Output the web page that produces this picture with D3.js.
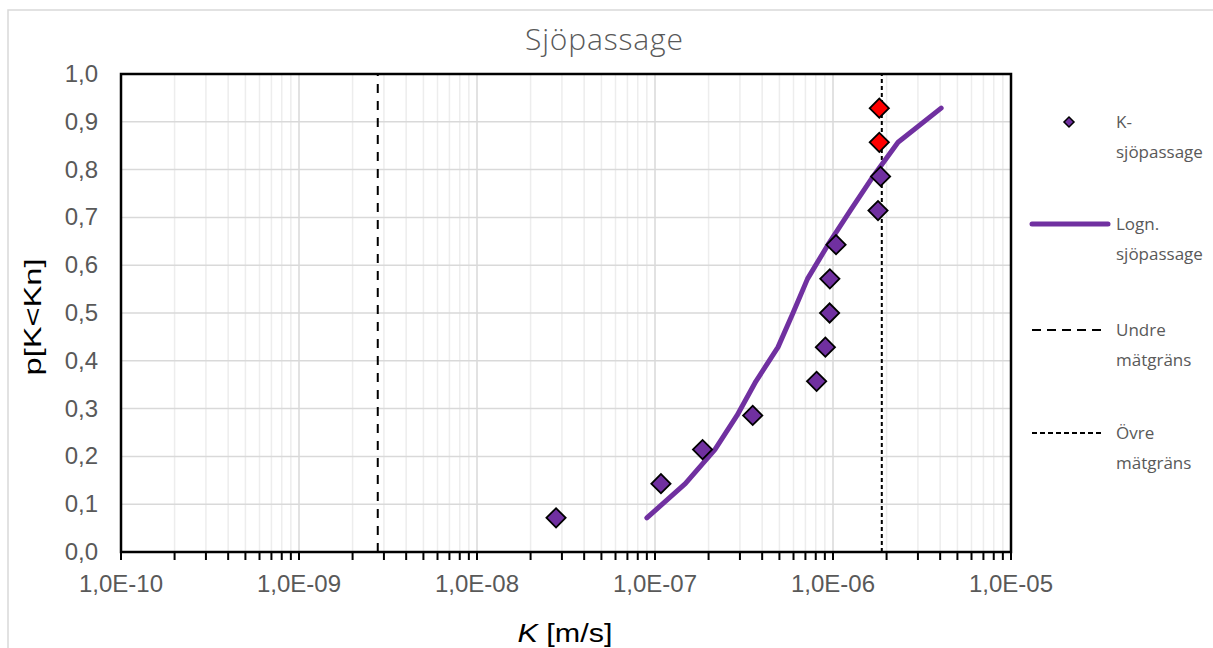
<!DOCTYPE html>
<html lang="sv">
<head>
<meta charset="UTF-8">
<title>Sjöpassage</title>
<script src="https://d3js.org/d3.v7.min.js"></script>
<style>
  body { margin: 0; background: #fff; }
  svg text { font-family: "Liberation Sans", Arial, sans-serif; }
</style>
</head>
<body>
<svg id="main" width="1213" height="648"></svg>
<script>
// measured K values (m/s) and plotting position p
const sampleK = [2.78e-8, 1.08e-7, 1.85e-7, 3.54e-7, 8.09e-7, 9.06e-7, 9.57e-7, 9.6e-7, 1.04e-6, 1.79e-6, 1.85e-6];
const sampleP = [0.0714, 0.1429, 0.2143, 0.2857, 0.3571, 0.4286, 0.5, 0.5714, 0.6429, 0.7143, 0.7857];
// values at the upper measurement limit (red)
const limitK = [1.82e-6, 1.82e-6];
const limitP = [0.8571, 0.9286];
// fitted lognormal curve
const curveK = [9.0e-8, 1.48e-7, 2.17e-7, 2.89e-7, 3.69e-7, 4.91e-7, 5.96e-7, 7.19e-7, 9.38e-7, 1.25e-6, 1.68e-6, 2.32e-6, 4.05e-6];
const curveP = [0.0714, 0.1429, 0.2143, 0.2857, 0.3571, 0.4286, 0.5, 0.5714, 0.6429, 0.7143, 0.7857, 0.8571, 0.9286];
const lowerLimit = 2.77e-9;
const upperLimit = 1.88e-6;
const xTicks = [1e-10, 1e-9, 1e-8, 1e-7, 1e-6, 1e-5];
const yTicks = [0, 0.1, 0.2, 0.3, 0.4, 0.5, 0.6, 0.7, 0.8, 0.9, 1.0];
const legendLabels = [["K-", "sjöpassage"], ["Logn.", "sjöpassage"], ["Undre", "mätgräns"], ["Övre", "mätgräns"]];

const purple = "#7030A0";
const svg = d3.select("svg#main");

// chart border
svg.append("rect").attr("x", 8).attr("y", 10).attr("width", 1230).attr("height", 660)
  .attr("fill", "none").attr("stroke", "#d9d9d9").attr("stroke-width", 1.5);

const x = d3.scaleLog().domain([1e-10, 1e-5]).range([121, 1011]);
const y = d3.scaleLinear().domain([0, 1]).range([552, 74]);

// vertical gridlines
const allX = x.ticks();
const isMajor = d => Math.abs(Math.log10(d) - Math.round(Math.log10(d))) < 1e-6;
svg.append("g").selectAll("line").data(allX.filter(d => !isMajor(d))).join("line")
  .attr("x1", d => x(d)).attr("x2", d => x(d)).attr("y1", y(0)).attr("y2", y(1))
  .attr("stroke", "#ededed").attr("stroke-width", 1.5);
svg.append("g").selectAll("line").data(xTicks).join("line")
  .attr("x1", d => x(d)).attr("x2", d => x(d)).attr("y1", y(0)).attr("y2", y(1))
  .attr("stroke", "#d9d9d9").attr("stroke-width", 1.5);
// horizontal gridlines
svg.append("g").selectAll("line").data(yTicks).join("line")
  .attr("x1", x.range()[0]).attr("x2", x.range()[1]).attr("y1", d => y(d)).attr("y2", d => y(d))
  .attr("stroke", "#d9d9d9").attr("stroke-width", 1.5);

// x axis ticks (all log ticks, pointing down)
svg.append("g").selectAll("line").data(allX).join("line")
  .attr("x1", d => x(d)).attr("x2", d => x(d)).attr("y1", y(0)).attr("y2", y(0) + 8)
  .attr("stroke", "#000").attr("stroke-width", 2);

// measurement limits
svg.append("line").attr("x1", x(lowerLimit)).attr("x2", x(lowerLimit)).attr("y1", y(0)).attr("y2", y(1))
  .attr("stroke", "#000").attr("stroke-width", 2).attr("stroke-dasharray", "9,8");
svg.append("line").attr("x1", x(upperLimit)).attr("x2", x(upperLimit)).attr("y1", y(0)).attr("y2", y(1))
  .attr("stroke", "#000").attr("stroke-width", 2).attr("stroke-dasharray", "4,3");

// plot area frame
svg.append("rect").attr("x", x.range()[0]).attr("y", y(1))
  .attr("width", x.range()[1] - x.range()[0]).attr("height", y(0) - y(1))
  .attr("fill", "none").attr("stroke", "#000").attr("stroke-width", 2.5);

// lognormal curve
const line = d3.line().x(d => x(d[0])).y(d => y(d[1]));
svg.append("path").datum(d3.zip(curveK, curveP)).attr("d", line)
  .attr("fill", "none").attr("stroke", purple).attr("stroke-width", 5)
  .attr("stroke-linecap", "round").attr("stroke-linejoin", "round");

// diamonds
const diamond = d3.symbol().type(d3.symbolSquare).size(185);
svg.append("g").selectAll("path").data(d3.zip(sampleK, sampleP)).join("path")
  .attr("d", diamond)
  .attr("transform", d => `translate(${x(d[0])},${y(d[1])}) rotate(45)`)
  .attr("fill", purple).attr("stroke", "#000").attr("stroke-width", 1.8);
svg.append("g").selectAll("path").data(d3.zip(limitK, limitP)).join("path")
  .attr("d", diamond)
  .attr("transform", d => `translate(${x(d[0])},${y(d[1])}) rotate(45)`)
  .attr("fill", "#ff0000").attr("stroke", "#000").attr("stroke-width", 1.8);

// tick labels
const fmtY = d => d3.format(".1f")(d).replace(".", ",");
svg.append("g").selectAll("text").data(yTicks).join("text")
  .attr("x", 98).attr("y", d => y(d) + 8).attr("text-anchor", "end")
  .attr("font-size", 24).attr("fill", "#595959").text(fmtY);
const fmtX = d => "1,0E-" + String(-Math.round(Math.log10(d))).padStart(2, "0");
svg.append("g").selectAll("text").data(xTicks).join("text")
  .attr("x", d => x(d)).attr("y", 592).attr("text-anchor", "middle")
  .attr("font-size", 24).attr("fill", "#595959").text(fmtX);

// axis titles
const xt = svg.append("text").attr("x", 565).attr("y", 642).attr("text-anchor", "middle")
  .attr("font-size", 25).attr("fill", "#000")
  .attr("textLength", 95).attr("lengthAdjust", "spacingAndGlyphs");
xt.append("tspan").attr("font-style", "italic").text("K");
xt.append("tspan").text(" [m/s]");
svg.append("text").attr("transform", "translate(41,317) rotate(-90)").attr("text-anchor", "middle")
  .attr("font-size", 24).attr("fill", "#000")
  .attr("textLength", 117).attr("lengthAdjust", "spacingAndGlyphs").text("p[K<Kn]");

// title
svg.append("text").attr("x", 604).attr("y", 50).attr("text-anchor", "middle")
  .style("font-family", "'Open Sans', sans-serif").attr("font-size", 30).attr("font-weight", 300)
  .attr("fill", "#595959").attr("textLength", 158).attr("lengthAdjust", "spacing").text("Sjöpassage");

// legend
const legendY = [122, 224, 330, 433];
const lg = svg.append("g");
lg.append("path").attr("d", d3.symbol().type(d3.symbolSquare).size(50))
  .attr("transform", `translate(1069,${legendY[0]}) rotate(45)`)
  .attr("fill", purple).attr("stroke", "#000").attr("stroke-width", 1.5);
lg.append("line").attr("x1", 1032).attr("x2", 1108).attr("y1", legendY[1]).attr("y2", legendY[1])
  .attr("stroke", purple).attr("stroke-width", 5).attr("stroke-linecap", "round");
lg.append("line").attr("x1", 1032).attr("x2", 1102).attr("y1", legendY[2]).attr("y2", legendY[2])
  .attr("stroke", "#000").attr("stroke-width", 2).attr("stroke-dasharray", "9,6");
lg.append("line").attr("x1", 1032).attr("x2", 1102).attr("y1", legendY[3]).attr("y2", legendY[3])
  .attr("stroke", "#000").attr("stroke-width", 2).attr("stroke-dasharray", "5,3");
legendLabels.forEach((lines, i) => {
  const t = lg.append("text").attr("x", 1116).attr("y", legendY[i] + 6)
    .style("font-family", "'Open Sans', sans-serif").attr("font-size", 17)
    .attr("fill", "#595959");
  lines.forEach((s, j) => t.append("tspan").attr("x", 1116).attr("dy", j === 0 ? 0 : 30).text(s));
});
</script>
</body>
</html>
